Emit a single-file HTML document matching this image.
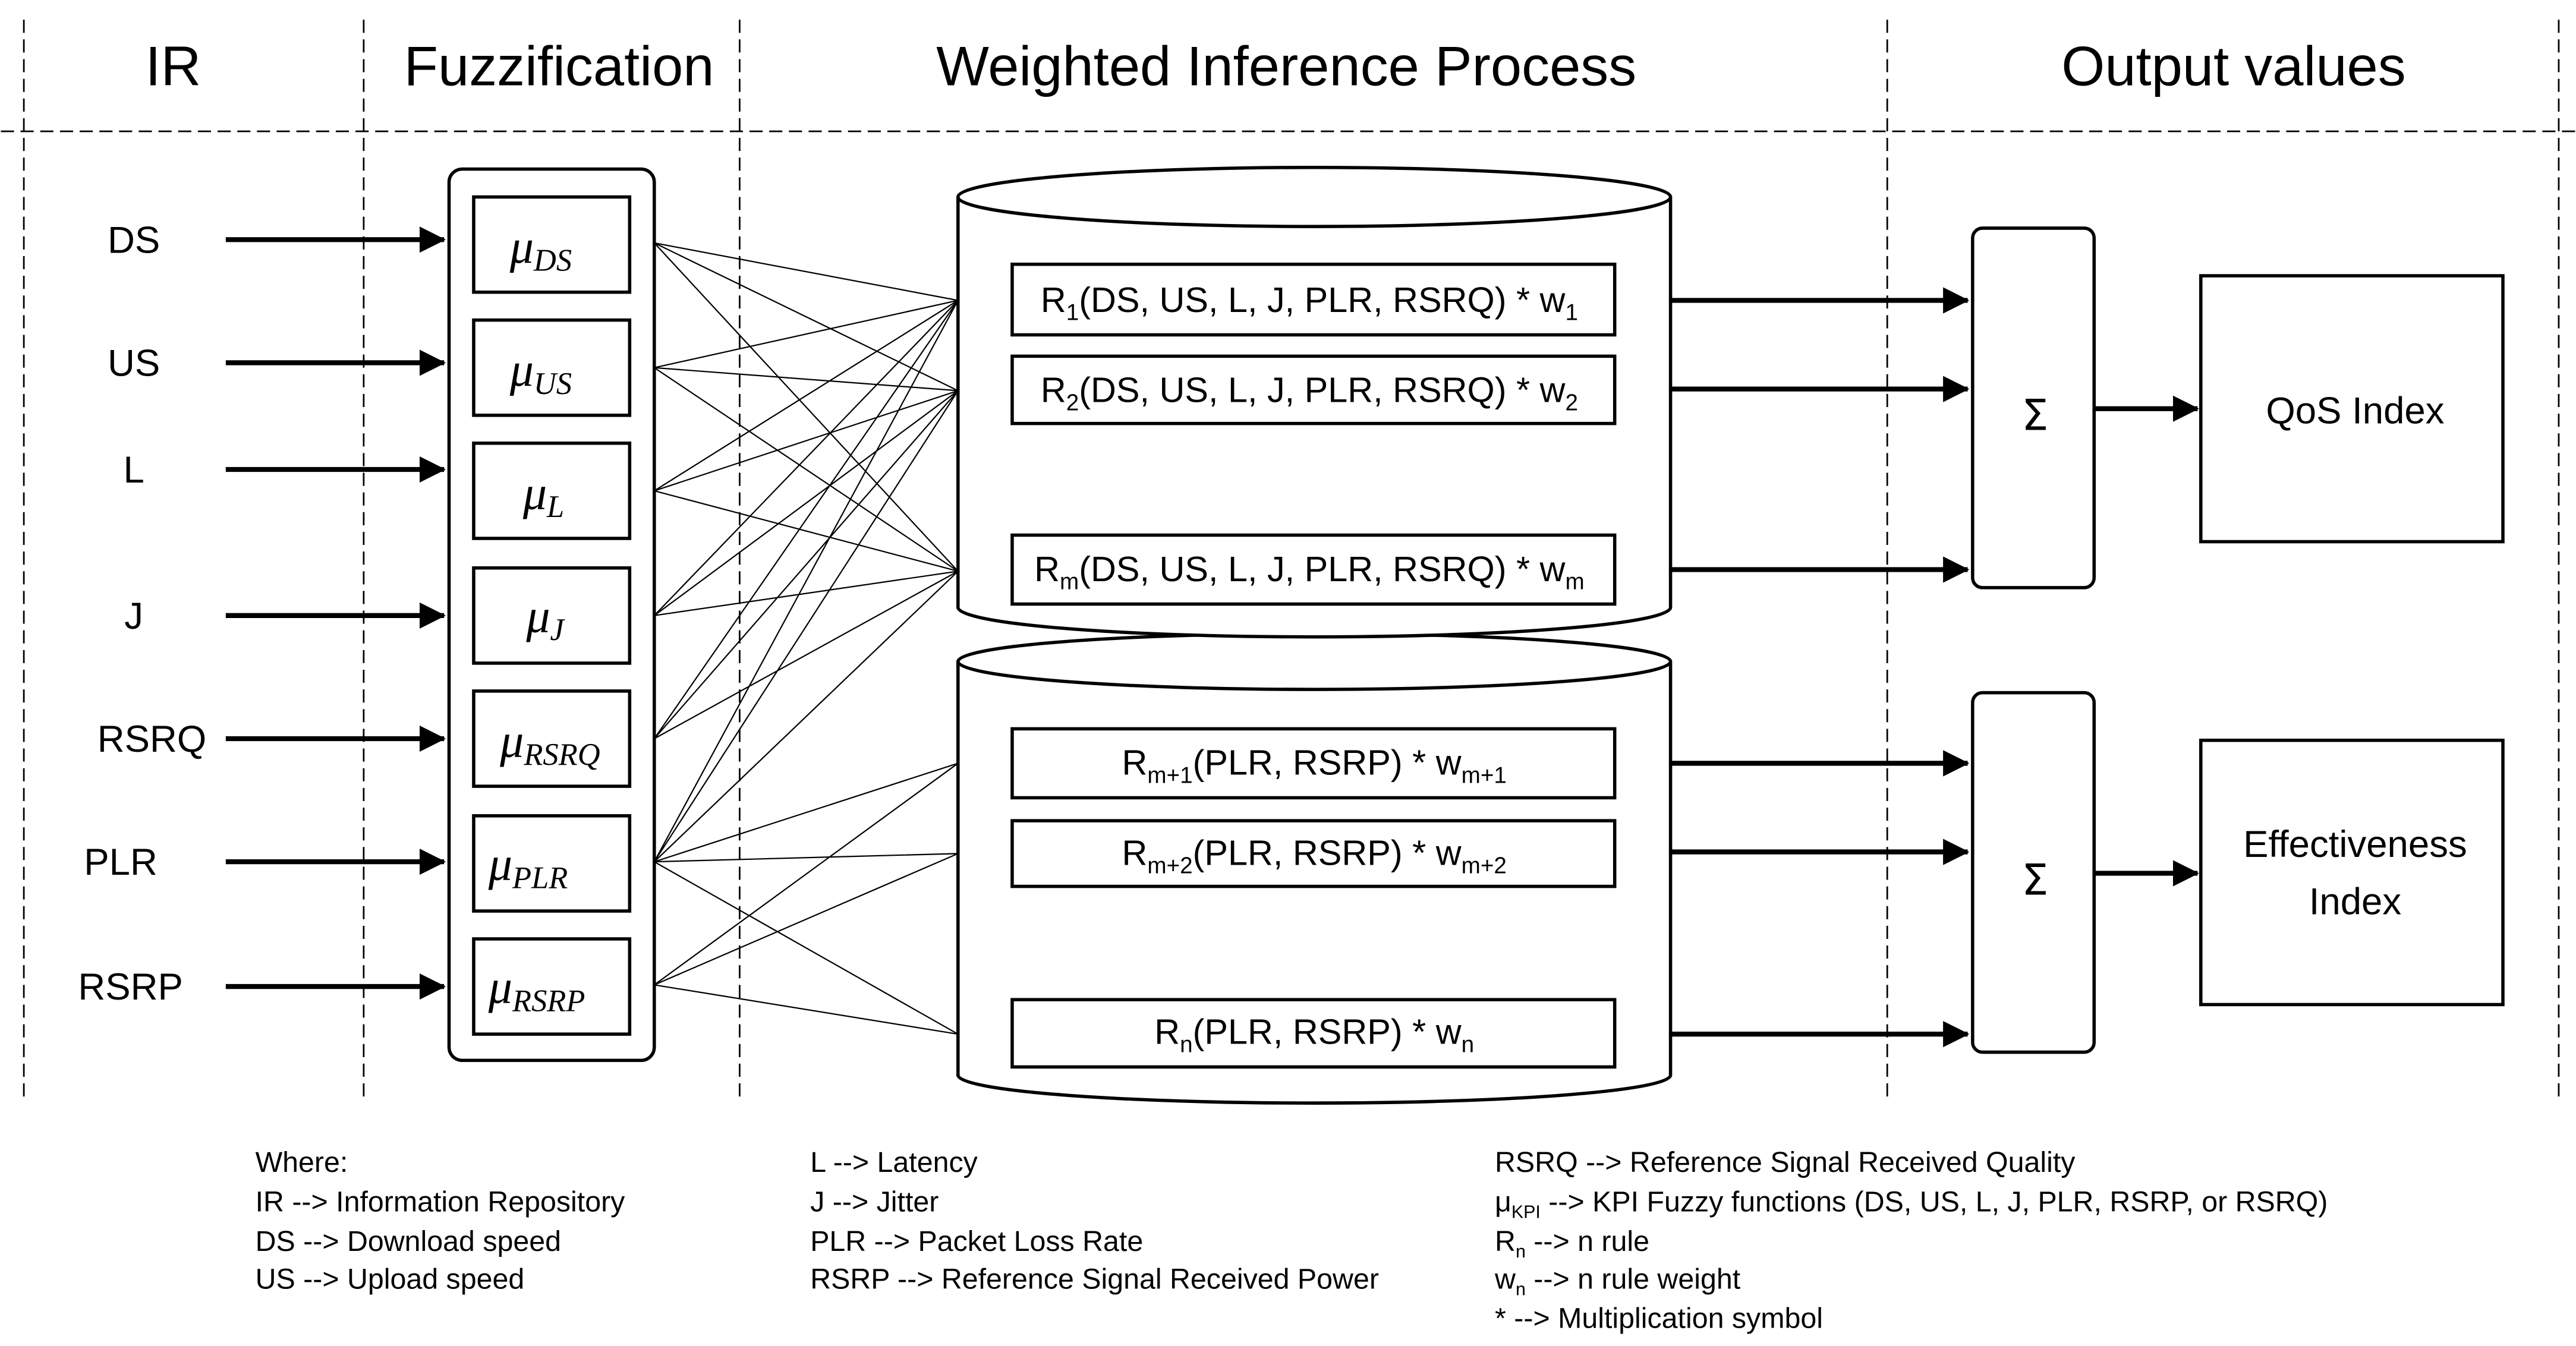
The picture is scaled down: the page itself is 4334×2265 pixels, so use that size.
<!DOCTYPE html>
<html><head><meta charset="utf-8"><style>
html,body{margin:0;padding:0;background:#fff}
svg{display:block}
text{font-family:"Liberation Sans",sans-serif;fill:#000}
.h{font-size:34px}
.l{font-size:23px}
.r{font-size:21.5px}
.g{font-size:17.5px}
.m{font-family:"Liberation Serif",serif;font-style:italic;font-size:29px}
.ms{font-family:"Liberation Serif",serif;font-style:italic;font-size:19px}
</style></head><body>
<svg width="4334" height="2265" viewBox="0 0 1568 820" xmlns="http://www.w3.org/2000/svg">
<defs><marker id="b" markerWidth="16" markerHeight="16" refX="15" refY="8" orient="auto" markerUnits="userSpaceOnUse"><path d="M0,0 L16,8 L0,16 z" fill="#000"/></marker></defs>
<g stroke="#000" stroke-width="1" stroke-dasharray="8,4" fill="none">
<line x1="0" y1="80" x2="1568" y2="80"/>
<line x1="14" y1="12" x2="14" y2="672"/><line x1="221" y1="12" x2="221" y2="672"/>
<line x1="450" y1="12" x2="450" y2="672"/><line x1="1149" y1="12" x2="1149" y2="672"/>
<line x1="1558" y1="12" x2="1558" y2="672"/></g>
<text class="h" x="105" y="52" text-anchor="middle">IR</text>
<text class="h" x="340" y="52" text-anchor="middle">Fuzzification</text>
<text class="h" x="783" y="52" text-anchor="middle">Weighted Inference Process</text>
<text class="h" x="1360" y="52" text-anchor="middle">Output values</text>
<g class="l" text-anchor="middle">
<text x="81" y="154">DS</text><text x="81" y="229">US</text><text x="81" y="294">L</text><text x="81" y="383">J</text>
<text x="92" y="458">RSRQ</text><text x="73" y="533">PLR</text><text x="79" y="609">RSRP</text></g>
<g stroke="#000" stroke-width="3" marker-end="url(#b)">
<line x1="137" y1="146" x2="270" y2="146"/><line x1="137" y1="221" x2="270" y2="221"/>
<line x1="137" y1="286" x2="270" y2="286"/><line x1="137" y1="375" x2="270" y2="375"/>
<line x1="137" y1="450" x2="270" y2="450"/><line x1="137" y1="525" x2="270" y2="525"/>
<line x1="137" y1="601" x2="270" y2="601"/></g>
<rect x="273" y="103" width="125" height="543" rx="8" fill="none" stroke="#000" stroke-width="2"/>
<g fill="none" stroke="#000" stroke-width="2">
<rect x="288" y="120" width="95" height="58"/><rect x="288" y="195" width="95" height="58"/>
<rect x="288" y="270" width="95" height="58"/><rect x="288" y="346" width="95" height="58"/>
<rect x="288" y="421" width="95" height="58"/><rect x="288" y="497" width="95" height="58"/>
<rect x="288" y="572" width="95" height="58"/></g>
<text x="310" y="160" class="m">μ<tspan class="ms" dy="5">DS</tspan></text>
<text x="310" y="235" class="m">μ<tspan class="ms" dy="5">US</tspan></text>
<text x="318" y="310" class="m">μ<tspan class="ms" dy="5">L</tspan></text>
<text x="320" y="385" class="m">μ<tspan class="ms" dy="5">J</tspan></text>
<text x="304" y="461" class="m">μ<tspan class="ms" dy="5">RSRQ</tspan></text>
<text x="297" y="536" class="m">μ<tspan class="ms" dy="5">PLR</tspan></text>
<text x="297" y="611" class="m">μ<tspan class="ms" dy="5">RSRP</tspan></text>
<g stroke="#000" stroke-width="0.8">
<path d="M398,148L583,183M398,148L583,238M398,148L583,348M398,224L583,183M398,224L583,238M398,224L583,348M398,299L583,183M398,299L583,238M398,299L583,348M398,375L583,183M398,375L583,238M398,375L583,348M398,450L583,183M398,450L583,238M398,450L583,348M398,525L583,183M398,525L583,238M398,525L583,348M398,525L583,465M398,525L583,520M398,525L583,630M398,600L583,465M398,600L583,520M398,600L583,630"/></g>
<g fill="#fff" stroke="#000" stroke-width="2">
<path d="M583,403 L583,655 A217,17 0 0 0 1017,655 L1017,403"/>
<ellipse cx="800" cy="403" rx="217" ry="17"/>
<path d="M583,120 L583,370 A217,18 0 0 0 1017,370 L1017,120"/>
<ellipse cx="800" cy="120" rx="217" ry="18"/>
<rect x="616" y="161" width="367" height="43"/><rect x="616" y="217" width="367" height="41"/>
<rect x="616" y="326" width="367" height="42"/><rect x="616" y="444" width="367" height="42"/>
<rect x="616" y="500" width="367" height="40"/><rect x="616" y="609" width="367" height="41"/></g>
<g class="r" text-anchor="middle">
<text x="797" y="190">R<tspan font-size="14" dy="5">1</tspan><tspan dy="-5">(DS, US, L, J, PLR, RSRQ) * w</tspan><tspan font-size="14" dy="5">1</tspan></text>
<text x="797" y="245">R<tspan font-size="14" dy="5">2</tspan><tspan dy="-5">(DS, US, L, J, PLR, RSRQ) * w</tspan><tspan font-size="14" dy="5">2</tspan></text>
<text x="797" y="354">R<tspan font-size="14" dy="5">m</tspan><tspan dy="-5">(DS, US, L, J, PLR, RSRQ) * w</tspan><tspan font-size="14" dy="5">m</tspan></text>
<text x="800" y="472">R<tspan font-size="14" dy="5">m+1</tspan><tspan dy="-5">(PLR, RSRP) * w</tspan><tspan font-size="14" dy="5">m+1</tspan></text>
<text x="800" y="527">R<tspan font-size="14" dy="5">m+2</tspan><tspan dy="-5">(PLR, RSRP) * w</tspan><tspan font-size="14" dy="5">m+2</tspan></text>
<text x="800" y="636">R<tspan font-size="14" dy="5">n</tspan><tspan dy="-5">(PLR, RSRP) * w</tspan><tspan font-size="14" dy="5">n</tspan></text></g>
<g stroke="#000" stroke-width="3" marker-end="url(#b)">
<line x1="1017" y1="183" x2="1198" y2="183"/><line x1="1017" y1="237" x2="1198" y2="237"/>
<line x1="1017" y1="347" x2="1198" y2="347"/><line x1="1017" y1="465" x2="1198" y2="465"/>
<line x1="1017" y1="519" x2="1198" y2="519"/><line x1="1017" y1="630" x2="1198" y2="630"/>
<line x1="1275" y1="249" x2="1338" y2="249"/><line x1="1275" y1="532" x2="1338" y2="532"/></g>
<g fill="none" stroke="#000" stroke-width="2">
<rect x="1201" y="139" width="74" height="219" rx="6"/><rect x="1201" y="422" width="74" height="219" rx="6"/>
<rect x="1340" y="168" width="184" height="162"/><rect x="1340" y="451" width="184" height="161"/></g>
<text x="1239" y="262" text-anchor="middle" style="font-size:26px;font-family:'DejaVu Sans',sans-serif">Σ</text>
<text x="1239" y="545" text-anchor="middle" style="font-size:26px;font-family:'DejaVu Sans',sans-serif">Σ</text>
<text x="1434" y="258" text-anchor="middle" class="l">QoS Index</text>
<text x="1434" y="522" text-anchor="middle" class="l">Effectiveness</text>
<text x="1434" y="557" text-anchor="middle" class="l">Index</text>
<g class="g">
<text x="155" y="714">Where:</text><text x="155" y="738">IR --&gt; Information Repository</text>
<text x="155" y="762">DS --&gt; Download speed</text><text x="155" y="785">US --&gt; Upload speed</text>
<text x="493" y="714">L --&gt; Latency</text><text x="493" y="738">J --&gt; Jitter</text>
<text x="493" y="762">PLR --&gt; Packet Loss Rate</text><text x="493" y="785">RSRP --&gt; Reference Signal Received Power</text>
<text x="910" y="714">RSRQ --&gt; Reference Signal Received Quality</text>
<text x="910" y="738">μ<tspan font-size="11" dy="4">KPI</tspan><tspan dy="-4"> --&gt; KPI Fuzzy functions (DS, US, L, J, PLR, RSRP, or RSRQ)</tspan></text>
<text x="910" y="762">R<tspan font-size="11" dy="4">n</tspan><tspan dy="-4"> --&gt; n rule</tspan></text>
<text x="910" y="785">w<tspan font-size="11" dy="4">n</tspan><tspan dy="-4"> --&gt; n rule weight</tspan></text>
<text x="910" y="809">* --&gt; Multiplication symbol</text></g>
</svg>
</body></html>
